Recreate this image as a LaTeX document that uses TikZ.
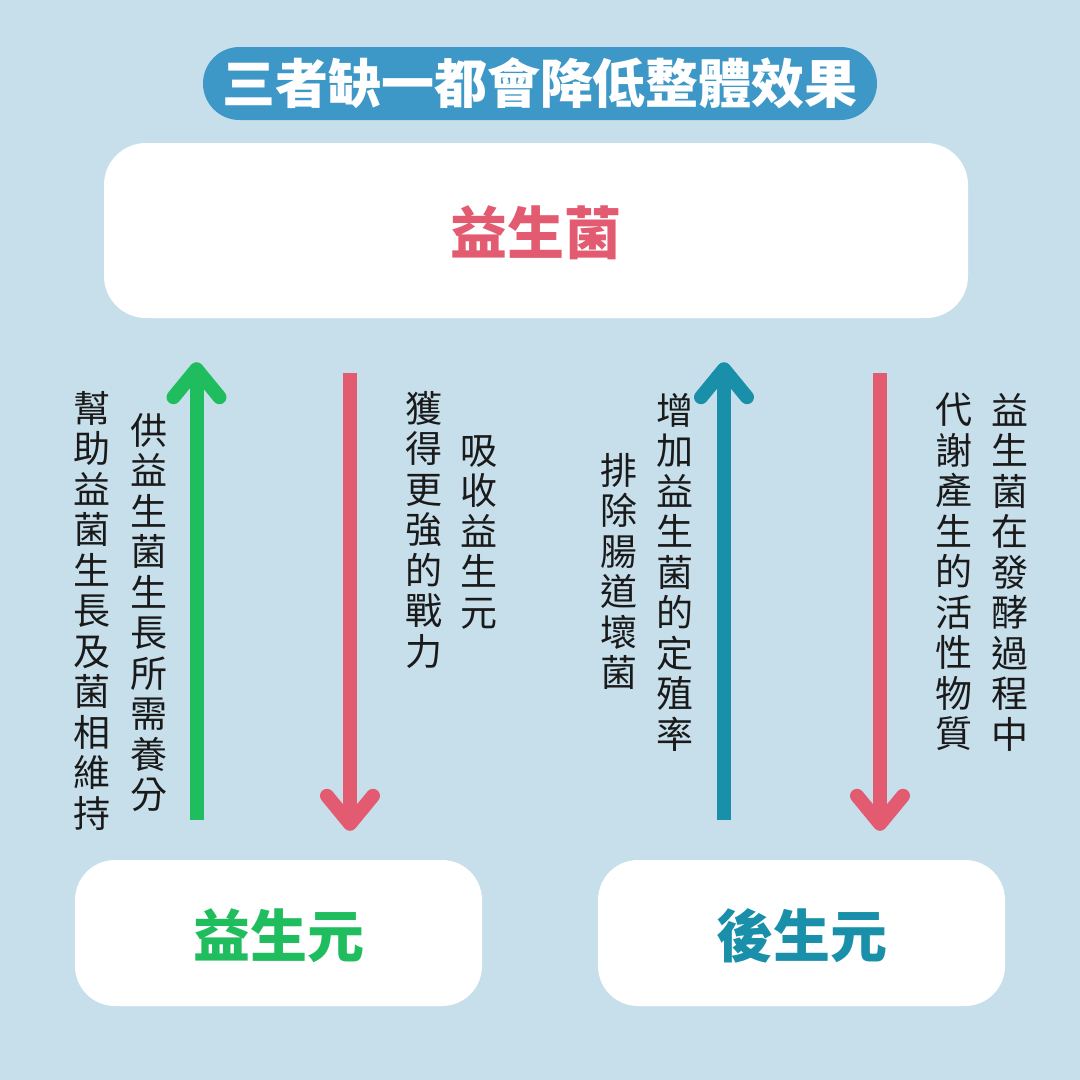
\documentclass[tikz,border=0pt]{standalone}
\usepackage{fontspec}
\newfontfamily\cjk{Noto Sans CJK TC}
\XeTeXlinebreaklocale "zh"
\XeTeXlinebreakskip=0pt plus 1pt
\usetikzlibrary{arrows.meta}
\definecolor{bgblue}{HTML}{C7DFEB}
\definecolor{pillblue}{HTML}{3E98C7}
\definecolor{rosered}{HTML}{E35B70}
\definecolor{leafgreen}{HTML}{1FBD5E}
\definecolor{tealblue}{HTML}{1A8FA9}
\definecolor{inkblack}{HTML}{1A1A1A}
\tikzset{
  box/.style={fill=white, rounded corners=42pt, inner sep=0pt, text depth=-8pt},
  boxtext/.style={font=\cjk\bfseries\fontsize{57}{60}\selectfont},
  coltext/.style={anchor=north, inner sep=0pt, text width=1.3em, align=center,
    text=inkblack, font=\cjk\fontsize{37}{40.5}\selectfont},
  flow/.style={line width=14pt, -{Straight Barb[length=28pt,width=46pt,round]}}
}
\begin{document}
\begin{tikzpicture}[x=1pt, y=-1pt]
  \fill[bgblue] (0,0) rectangle (1080,1080);
  \useasboundingbox (0,0) rectangle (1080,1080);
  \node[fill=pillblue, rounded corners=36.5pt, minimum width=674pt, minimum height=73pt,
    text=white, font=\cjk\bfseries\fontsize{53}{56}\selectfont] (title) at (540,83.5) {三者缺一都會降低整體效果};
  \node[box, minimum width=864pt, minimum height=175pt, boxtext, text=rosered] (probio) at (536,230.5) {益生菌};
  \node[box, rounded corners=40pt, minimum width=407pt, minimum height=146pt, boxtext, text=leafgreen] (prebio) at (278.5,933) {益生元};
  \node[box, rounded corners=40pt, minimum width=407pt, minimum height=146pt, boxtext, text=tealblue] (postbio) at (801.5,933) {後生元};
  \draw[flow, leafgreen, shorten <=40pt, shorten >=44pt] ([xshift=-82pt]prebio.north) -- ([xshift=-82pt]prebio.north |- probio.south);
  \draw[flow, rosered, shorten <=55pt, shorten >=29pt] ([xshift=71.5pt]prebio.north |- probio.south) -- ([xshift=71.5pt]prebio.north);
  \draw[flow, tealblue, shorten <=40pt, shorten >=44pt] ([xshift=-77.5pt]postbio.north) -- ([xshift=-77.5pt]postbio.north |- probio.south);
  \draw[flow, rosered, shorten <=55pt, shorten >=29pt] ([xshift=78.5pt]postbio.north |- probio.south) -- ([xshift=78.5pt]postbio.north);
  \node[coltext] (help) at (80,391) {幫助益菌生長及菌相維持};
  \node[coltext] (supply) at (137,413) {供益生菌生長所需養分};
  \node[coltext] (gain) at (412,391) {獲得更強的戰力};
  \node[coltext] (absorb) at (467,435) {吸收益生元};
  \node[coltext] (expel) at (607,453) {排除腸道壞菌};
  \node[coltext] (colon) at (663,393) {增加益生菌的定殖率};
  \node[coltext] (meta) at (942,393) {代謝產生的活性物質};
  \node[coltext] (ferm) at (998,393) {益生菌在發酵過程中};
\end{tikzpicture}
\end{document}
